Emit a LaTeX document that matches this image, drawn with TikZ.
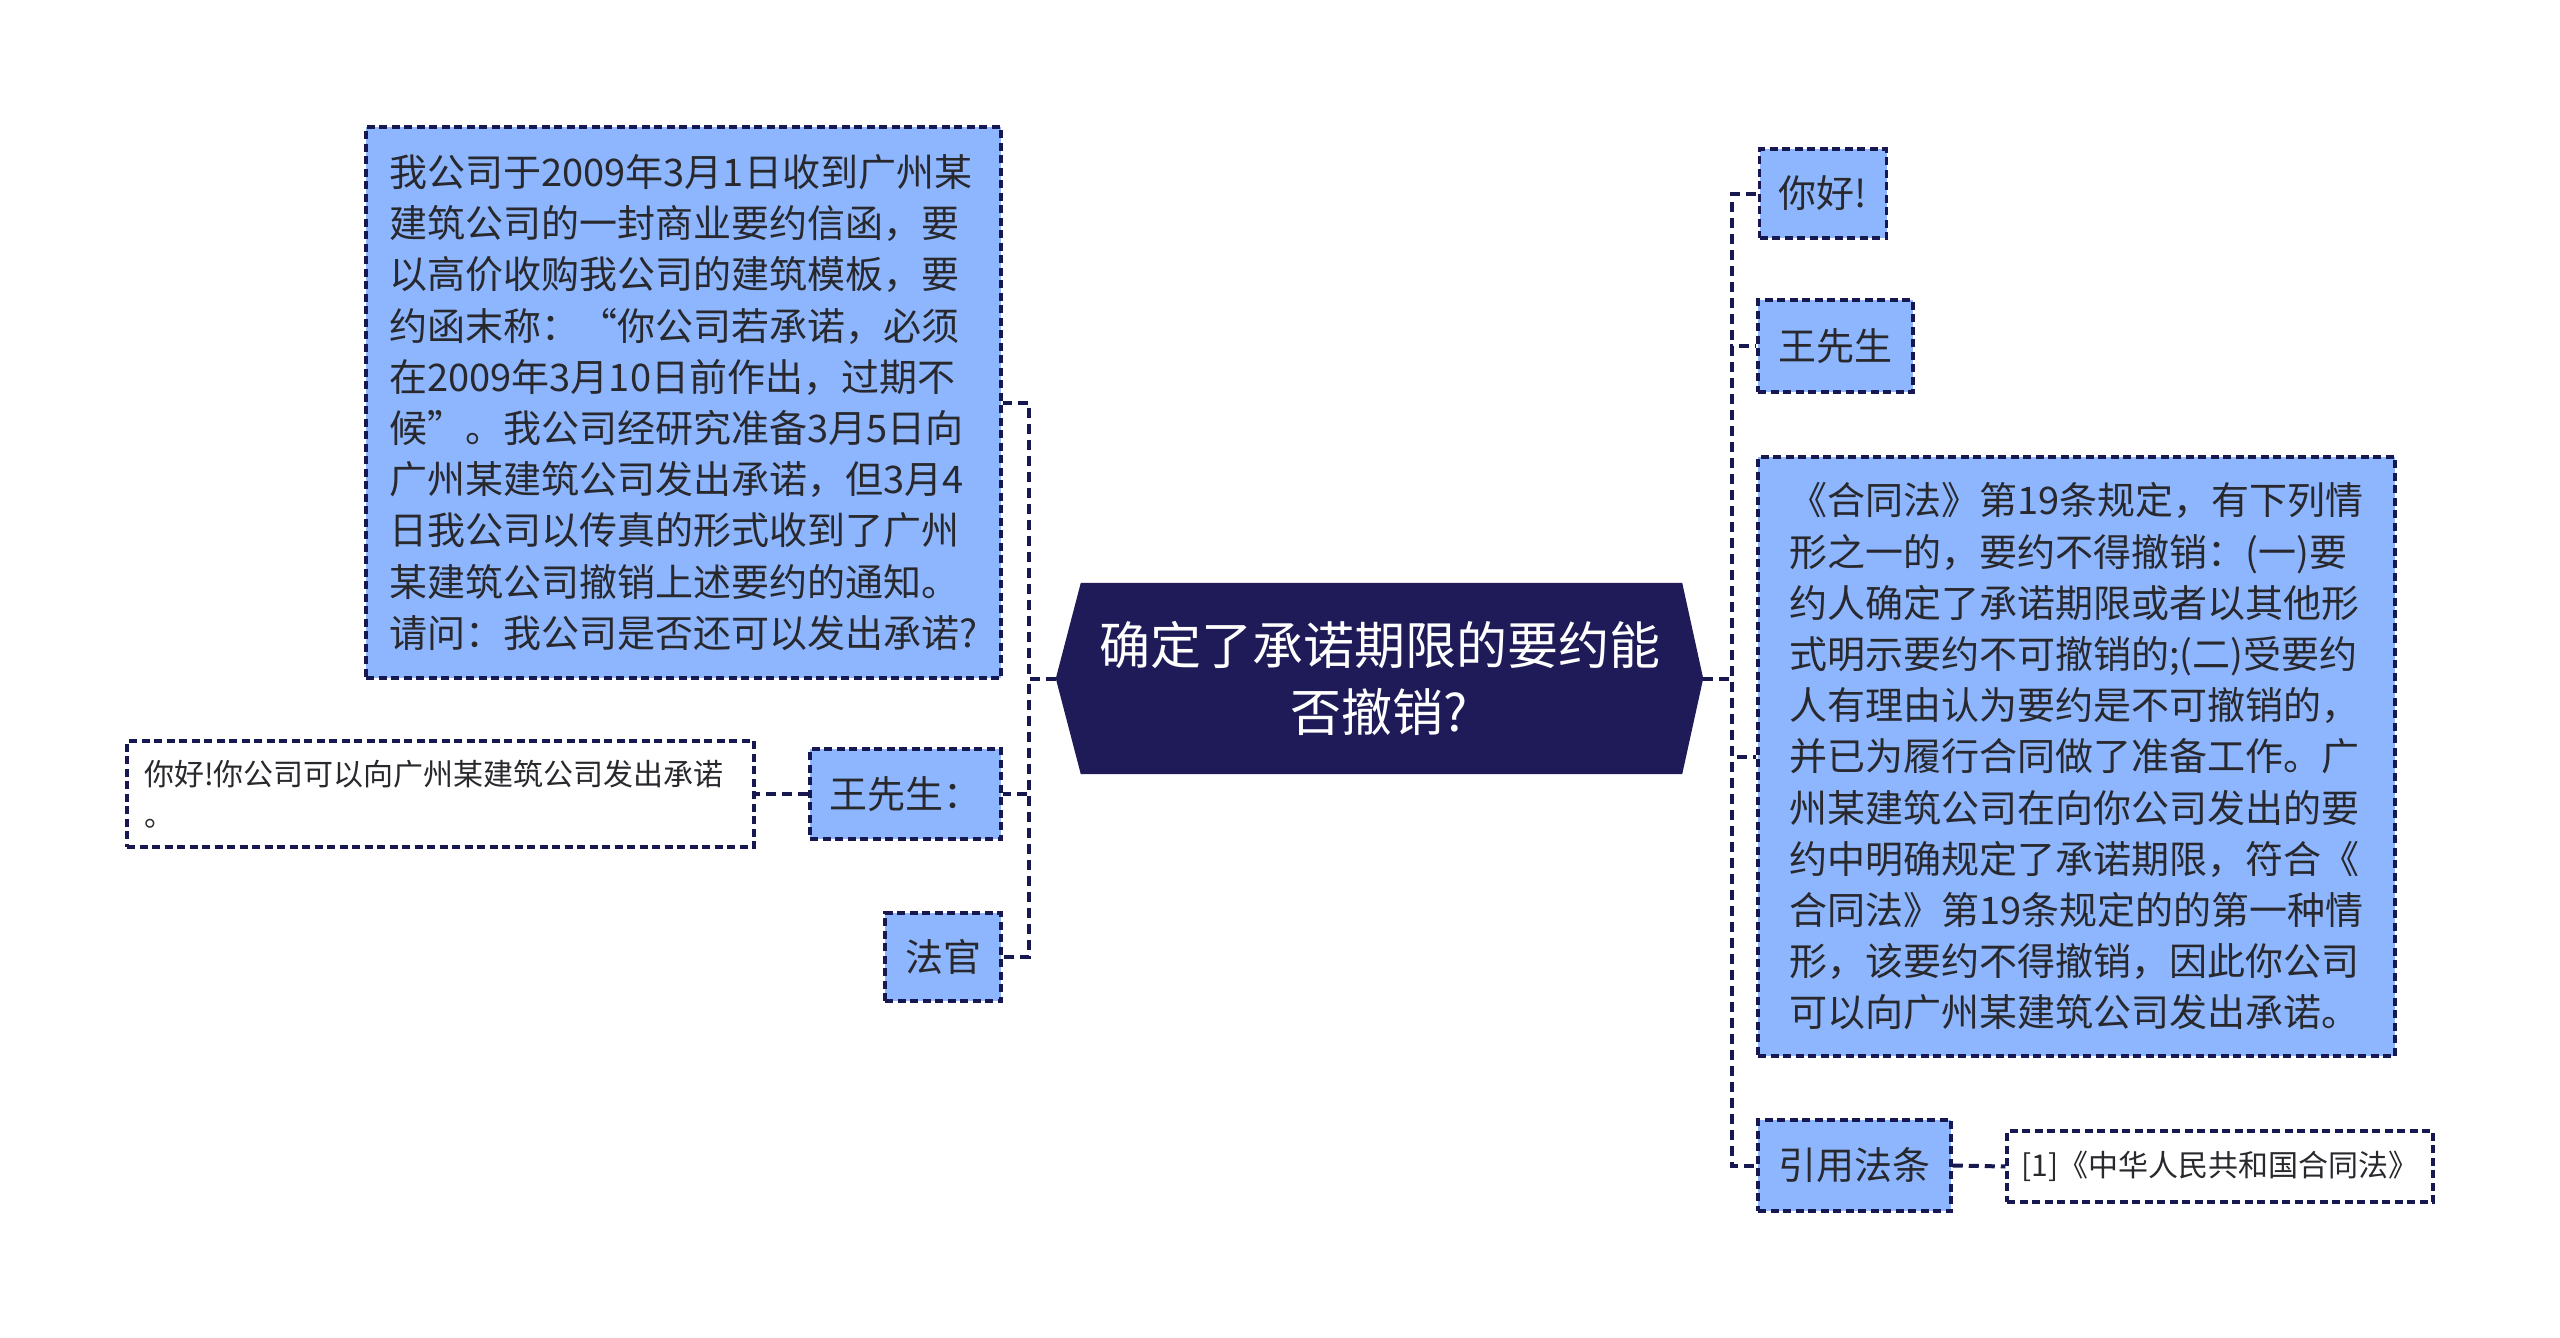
\documentclass[tikz,border=0pt]{standalone}
\usepackage{fontspec}
\setmainfont{Noto Sans CJK SC}
\usetikzlibrary{backgrounds,calc}
\definecolor{boxblue}{RGB}{141,182,255}
\definecolor{navy}{RGB}{24,24,80}
\definecolor{hexfill}{RGB}{30,27,88}
\definecolor{txt}{RGB}{40,40,45}
\tikzset{
  topic/.style={fill=boxblue, draw=navy, line width=3.5pt, dash pattern=on 8pt off 4.5pt,
    inner sep=0pt, text=txt, font=\fontsize{38}{51.2}\selectfont, align=left},
  notebox/.style={fill=white, draw=navy, line width=3.2pt, dash pattern=on 8pt off 4.5pt,
    inner sep=0pt, text=txt, font=\fontsize{30}{41}\selectfont, align=left},
  conn/.style={draw=navy, line width=4pt, dash pattern=on 10pt off 6pt},
}
\begin{document}
\begin{tikzpicture}[x=1pt,y=-1pt]
\useasboundingbox (0,0) rectangle (2560,1338);
% central topic
\node[inner sep=0pt, minimum width=647pt, minimum height=191pt, text=white,
  font=\fontsize{51}{67}\selectfont, align=center] (c) at (1379.5,678.5)
  {确定了承诺期限的要约能\\否撤销?};
% left side
\node[topic, minimum width=635pt, minimum height=551pt] (bigL) at (683.5,402.5)
  {我公司于2009年3月1日收到广州某\\
   建筑公司的一封商业要约信函，要\\
   以高价收购我公司的建筑模板，要\\
   约函末称：“你公司若承诺，必须\\
   在2009年3月10日前作出，过期不\\
   候”。我公司经研究准备3月5日向\\
   广州某建筑公司发出承诺，但3月4\\
   日我公司以传真的形式收到了广州\\
   某建筑公司撤销上述要约的通知。\\
   请问：我公司是否还可以发出承诺?};
\node[topic, minimum width=191pt, minimum height=90pt] (wangL) at (905.5,794) {王先生：};
\node[topic, minimum width=116pt, minimum height=88pt] (faguan) at (943,957) {法官};
\node[notebox, minimum width=627pt, minimum height=106pt, text width=593pt] (noteL) at (440.5,794)
  {你好!你公司可以向广州某建筑公司发出承诺\\。};
% right side
\node[topic, minimum width=127pt, minimum height=89pt] (nihao) at (1823,193.5) {你好!};
\node[topic, minimum width=155pt, minimum height=92pt] (wangR) at (1835.5,346) {王先生};
\node[topic, minimum width=637pt, minimum height=599pt] (bigR) at (2076.5,756.5)
  {《合同法》第19条规定，有下列情\\
   形之一的，要约不得撤销：(一)要\\
   约人确定了承诺期限或者以其他形\\
   式明示要约不可撤销的;(二)受要约\\
   人有理由认为要约是不可撤销的，\\
   并已为履行合同做了准备工作。广\\
   州某建筑公司在向你公司发出的要\\
   约中明确规定了承诺期限，符合《\\
   合同法》第19条规定的的第一种情\\
   形，该要约不得撤销，因此你公司\\
   可以向广州某建筑公司发出承诺。};
\node[topic, minimum width=193pt, minimum height=91pt] (yinyong) at (1854.5,1165.5) {引用法条};
\node[notebox, minimum width=426pt, minimum height=71pt] (noteR) at (2220,1166.5)
  {[1]《中华人民共和国合同法》};
\begin{pgfonlayer}{background}
  \draw[conn] (c.west) -- ++(-27,0) |- (bigL.east);
  \draw[conn] (c.west) -- ++(-27,0) |- (wangL.east);
  \draw[conn] (c.west) -- ++(-27,0) |- (faguan.east);
  \draw[conn] (wangL.west) -- (noteL.east);
  \draw[conn] (c.east) -- ++(29,0) |- (nihao.west);
  \draw[conn] (c.east) -- ++(29,0) |- (wangR.west);
  \draw[conn] (c.east) -- ++(29,0) |- (bigR.west);
  \draw[conn] (c.east) -- ++(29,0) |- (yinyong.west);
  \draw[conn] (yinyong.east) -- (noteR.west);
  \fill[hexfill] (c.west) -- ($(c.north west)+(25,0)$) -- ($(c.north east)+(-21,0)$)
    -- (c.east) -- ($(c.south east)+(-21,0)$) -- ($(c.south west)+(25,0)$) -- cycle;
\end{pgfonlayer}
\end{tikzpicture}
\end{document}
